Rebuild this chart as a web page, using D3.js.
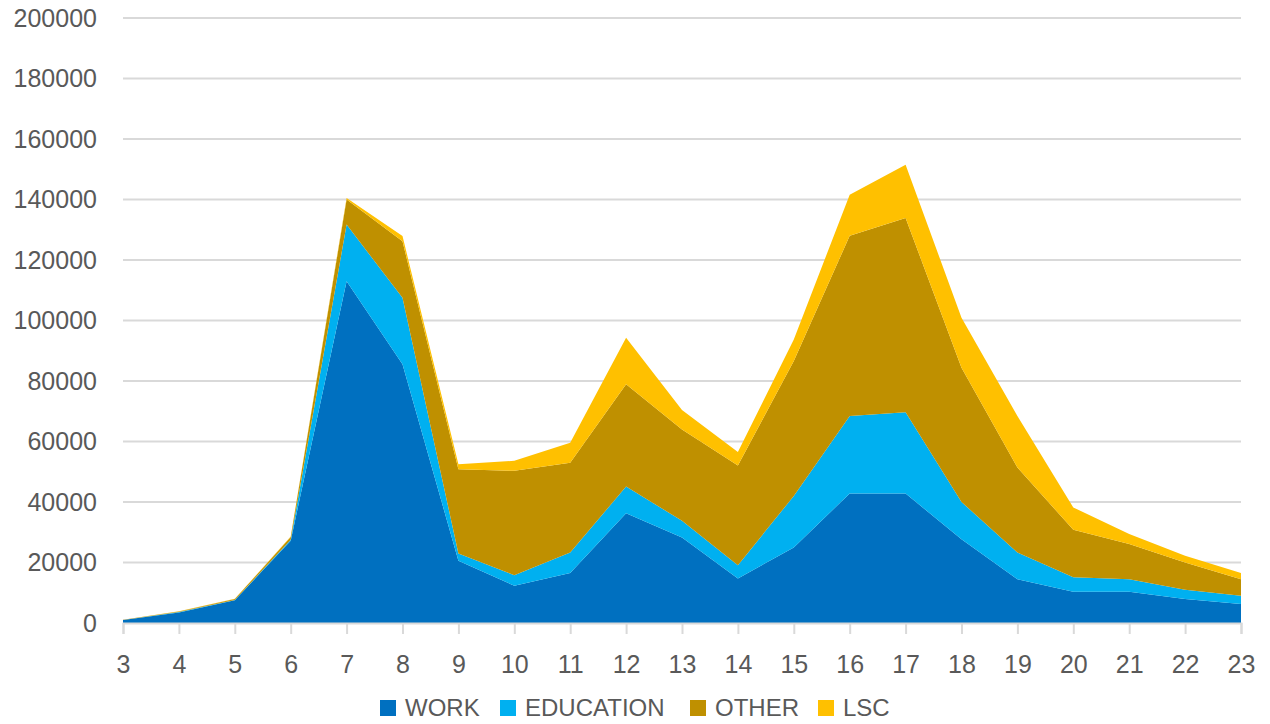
<!DOCTYPE html>
<html>
<head>
<meta charset="utf-8">
<script src="https://cdn.jsdelivr.net/npm/d3@7"></script>
<style>
  body { margin: 0; background: #fff; }
  svg { display: block; font-family: "Liberation Sans", Arial, sans-serif; }
  .axis text { fill: #595959; }
</style>
</head>
<body>
<div id="chart"></div>
<script>
var hours = [3, 4, 5, 6, 7, 8, 9, 10, 11, 12, 13, 14, 15, 16, 17, 18, 19, 20, 21, 22, 23];
var work      = [1000, 3500, 7500, 27200, 113000, 85500, 20600, 12300, 16500, 36300, 28300, 14700, 25000, 42800, 42800, 27700, 14500, 10300, 10300, 7900, 6300];
var education = [0, 100, 100, 300, 18700, 22000, 2400, 3500, 6800, 8800, 5500, 4400, 17000, 25600, 26900, 12300, 8800, 4800, 4200, 3100, 2700];
var other     = [100, 200, 300, 900, 8300, 18700, 27800, 34500, 29700, 33800, 30200, 33000, 44600, 59600, 64200, 44400, 28100, 15700, 11600, 9000, 5500];
var lsc       = [0, 50, 100, 200, 500, 1700, 1700, 3300, 6600, 15400, 6400, 4400, 7100, 13600, 17600, 16500, 17000, 7400, 3300, 2200, 2000];
var seriesNames = ["WORK", "EDUCATION", "OTHER", "LSC"];
var colors = ["#0070C0", "#00B0F0", "#BF9000", "#FFC000"];
var yTicks = [0, 20000, 40000, 60000, 80000, 100000, 120000, 140000, 160000, 180000, 200000];

var width = 1270, height = 724;
var margin = { top: 18, right: 29, bottom: 101, left: 123 };

var rows = hours.map(function (h, i) {
    return { hour: h, WORK: work[i], EDUCATION: education[i], OTHER: other[i], LSC: lsc[i] };
});

var svg = d3.select("#chart").append("svg")
    .attr("width", width)
    .attr("height", height);

var x = d3.scaleLinear()
    .domain([d3.min(hours), d3.max(hours)])
    .range([margin.left, width - margin.right]);

var y = d3.scaleLinear()
    .domain([0, 200000])
    .range([height - margin.bottom, margin.top]);

// gridlines
svg.append("g")
    .selectAll("line")
    .data(yTicks.filter(function (d) { return d > 0; }))
    .enter().append("line")
    .attr("x1", x.range()[0])
    .attr("x2", x.range()[1])
    .attr("y1", function (d) { return y(d); })
    .attr("y2", function (d) { return y(d); })
    .attr("stroke", "#d9d9d9")
    .attr("stroke-width", 2);

// stacked areas
var stack = d3.stack().keys(seriesNames);
var layers = stack(rows);

var area = d3.area()
    .x(function (d) { return x(d.data.hour); })
    .y0(function (d) { return y(d[0]); })
    .y1(function (d) { return y(d[1]); });

svg.append("g")
    .selectAll("path")
    .data(layers)
    .enter().append("path")
    .attr("d", area)
    .attr("fill", function (d, i) { return colors[i]; });

// x axis
var xAxis = d3.axisBottom(x)
    .tickValues(hours)
    .tickFormat(d3.format("d"))
    .tickSize(11)
    .tickPadding(21);

var gx = svg.append("g")
    .attr("class", "axis")
    .attr("transform", "translate(0," + y(0) + ")")
    .call(xAxis);
gx.select(".domain").attr("stroke", "#d9d9d9").attr("stroke-width", 2);
gx.selectAll(".tick line").attr("stroke", "#d9d9d9").attr("stroke-width", 2);
gx.selectAll("text").attr("font-size", 25).attr("fill", "#595959");

// y axis (labels only)
var yAxis = d3.axisLeft(y)
    .tickValues(yTicks)
    .tickFormat(d3.format("d"))
    .tickSize(0)
    .tickPadding(26);

var gy = svg.append("g")
    .attr("class", "axis")
    .attr("transform", "translate(" + margin.left + ",0)")
    .call(yAxis);
gy.select(".domain").remove();
gy.selectAll("text").attr("font-size", 25).attr("fill", "#595959");

// legend
var legendX = [380, 500, 690, 818];
var legend = svg.append("g")
    .selectAll("g")
    .data(seriesNames)
    .enter().append("g")
    .attr("transform", function (d, i) { return "translate(" + legendX[i] + ",700)"; });

legend.append("rect")
    .attr("width", 16)
    .attr("height", 16)
    .attr("fill", function (d, i) { return colors[i]; });

legend.append("text")
    .attr("x", 25)
    .attr("y", 8)
    .attr("dy", "0.35em")
    .attr("font-size", 24)
    .attr("fill", "#595959")
    .text(function (d) { return d; });
</script>
</body>
</html>
